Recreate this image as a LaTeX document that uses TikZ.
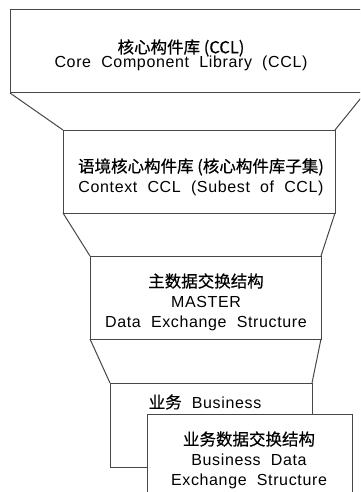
\documentclass[tikz,border=0pt]{standalone}
\usepackage{fontspec}
\setmainfont{Liberation Sans}[LetterSpace=4,WordSpace=2]
\newfontfamily\cjk{Noto Sans CJK SC}[FakeBold=0.5]
\begin{document}
\begin{tikzpicture}[x=1pt,y=-1pt,
  layer/.style={draw=black!72,line width=1pt,fill=white,inner sep=0pt,outer sep=0pt},
  side/.style={draw=black!72,line width=1pt},
  label text/.style={align=center,font=\fontsize{16}{20}\selectfont,inner sep=0pt}]
\useasboundingbox (0,0) rectangle (360,492);
\clip (0,0) rectangle (360,492);
% funnel layers
\node [layer,minimum width=355,minimum height=83] (ccl) at (187.5,51.5) {};
\node [layer,minimum width=272,minimum height=83] (ctx) at (199,171.5) {};
\node [layer,minimum width=231,minimum height=83] (master) at (205.5,297.5) {};
\node [layer,minimum width=202,minimum height=84] (business) at (211,425) {};
\node [layer,minimum width=205,minimum height=92] (bde) at (250,460) {};
% funnel sides
\draw [side] (ccl.south west) -- (ctx.north west);
\draw [side] (ccl.south east) -- (ctx.north east);
\draw [side] (ctx.south west) -- (master.north west);
\draw [side] (ctx.south east) -- (master.north east);
\draw [side] (master.south west) -- (business.north west);
\draw [side] (master.south east) -- (business.north east);
% texts
\node [label text] (ccltext) at (181,55) {{\cjk\fontsize{16.5}{20}\selectfont 核心构件库 (CCL)}\\[-6pt]Core Component Library (CCL)};
\node [label text] (ctxtext) at (201,177) {{\cjk\fontsize{16.5}{20}\selectfont 语境核心构件库 (核心构件库子集)}\\Context CCL (Subest of CCL)};
\node [label text] (mastertext) at (206,302) {{\cjk\fontsize{16.5}{20}\selectfont 主数据交换结构}\\MASTER\\Data Exchange Structure};
\node [label text] (businesstext) at (205,402) {{\cjk\fontsize{16.5}{20}\selectfont 业务} Business};
\node [label text] (bdetext) at (249,460) {{\cjk\fontsize{16.5}{20}\selectfont 业务数据交换结构}\\Business Data\\Exchange Structure};
\end{tikzpicture}
\end{document}
